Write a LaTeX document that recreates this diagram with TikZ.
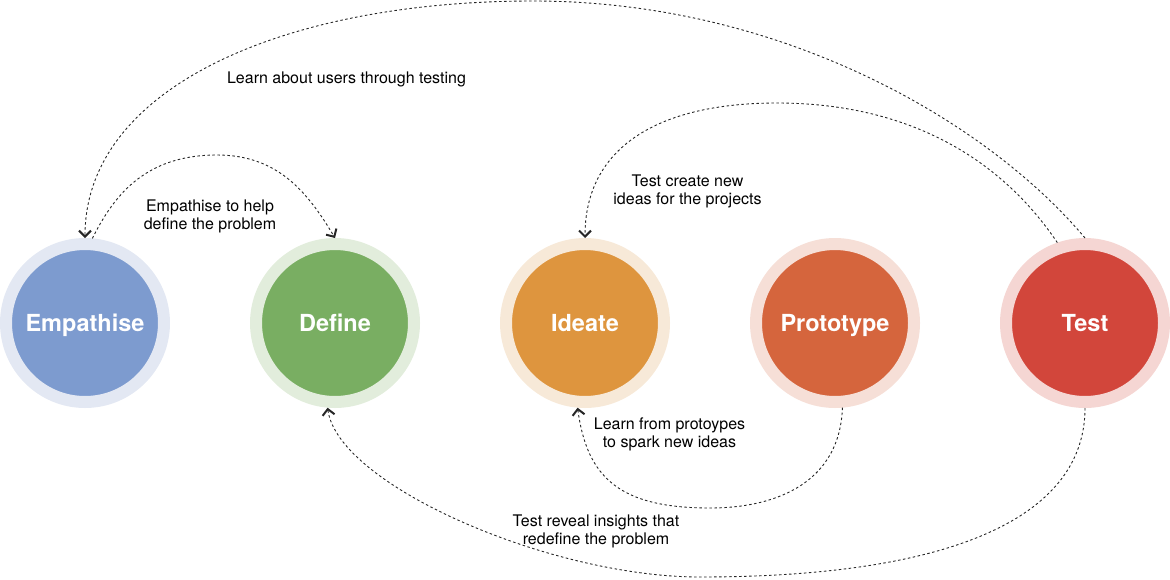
\documentclass[tikz,border=0pt]{standalone}
\usepackage{fontspec}
\setmainfont{TeX Gyre Heros}
\usetikzlibrary{arrows.meta}
\definecolor{empIn}{HTML}{7D9BCF}
\definecolor{empOut}{HTML}{E3E8F3}
\definecolor{defIn}{HTML}{79AE62}
\definecolor{defOut}{HTML}{E2EDDC}
\definecolor{ideIn}{HTML}{DE953E}
\definecolor{ideOut}{HTML}{F7E9D8}
\definecolor{proIn}{HTML}{D5653D}
\definecolor{proOut}{HTML}{F6DFD7}
\definecolor{tesIn}{HTML}{D2463B}
\definecolor{tesOut}{HTML}{F5D6D3}
\begin{document}
\begin{tikzpicture}[x=1pt,y=-1pt,
  stage/.style={circle, minimum size=158pt, inner sep=0pt, line width=12pt,
    text height=19pt, text depth=3pt,
    text=white, font=\bfseries\fontsize{23.5}{26}\selectfont},
  flow/.style={draw=black!85, line width=0.9pt, dash pattern=on 2.5pt off 2.5pt,
    -{Straight Barb[length=6pt,width=12pt,line width=2pt]}},
  lbl/.style={align=center, font=\fontsize{16}{18}\selectfont, inner sep=0pt}]
\useasboundingbox (0,0) rectangle (1170,579);

\node[stage, draw=empOut, fill=empIn] (emp) at (85,323) {Empathise};
\node[stage, draw=defOut, fill=defIn] (def) at (335,323) {Define};
\node[stage, draw=ideOut, fill=ideIn] (ide) at (585,323) {Ideate};
\node[stage, draw=proOut, fill=proIn] (pro) at (835,323) {Prototype};
\node[stage, draw=tesOut, fill=tesIn] (tes) at (1085,323) {Test};

\coordinate (topA) at (533,1);
\coordinate (topB) at (777,103);
\coordinate (topC) at (217,155);
\coordinate (botA) at (710,508);
\coordinate (botB) at (700,577);

% Test -> Empathise (big top arc)
\draw[flow] (tes.north) .. controls (988.5,123) and (783,1) .. (topA)
  .. controls (283,1) and (85,88) .. (emp.north);
% Test -> Ideate
\draw[flow] (tes.109) .. controls (1000,157.5) and (907,103) .. (topB)
  .. controls (657,103) and (585,148) .. (ide.north);
% Empathise -> Define
\draw[flow] (emp.85) .. controls (115,193) and (147,155) .. (topC)
  .. controls (277,155) and (307,191) .. (def.north);
% Prototype -> Ideate
\draw[flow] (pro.275) .. controls (840,480) and (780,508) .. (botA)
  .. controls (620,508) and (587,478) .. (ide.265);
% Test -> Define
\draw[flow] (tes.south) .. controls (1085,518) and (950,577) .. (botB)
  .. controls (550,577) and (338,485) .. (def.265);

\node[lbl] (l1) at (346.5,79) {Learn about users through testing};
\node[lbl] (l2) at (210,216) {Empathise to help\\define the problem};
\node[lbl] (l3) at (687.5,191) {Test create new\\ideas for the projects};
\node[lbl] (l4) at (669.5,434.5) {Learn from protoypes\\to spark new ideas};
\node[lbl] (l5) at (596,531) {Test reveal insights that\\redefine the problem};
\end{tikzpicture}
\end{document}
